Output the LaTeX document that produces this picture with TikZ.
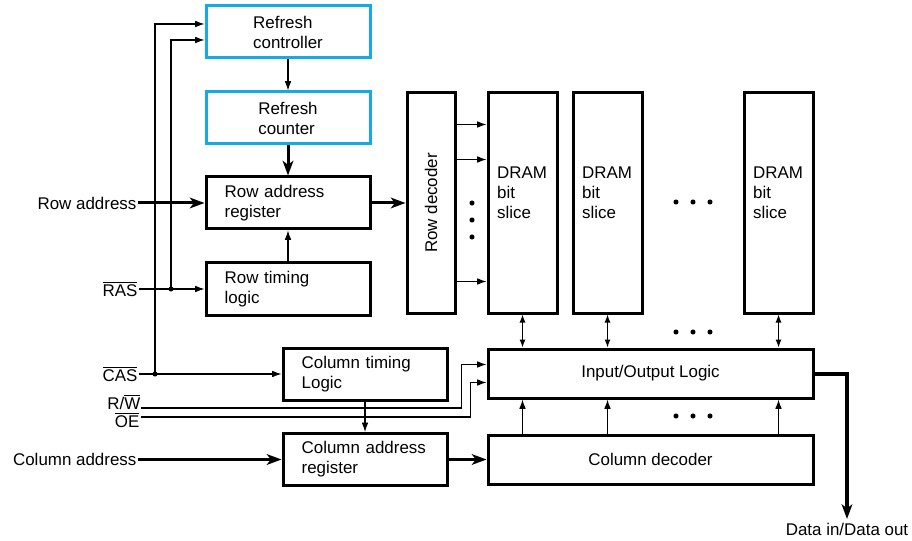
\documentclass[tikz,border=0pt]{standalone}
\usepackage{fontspec}
\setmainfont{Liberation Sans}
\usepackage{xcolor}
\usepackage{tikz}
\usetikzlibrary{positioning,calc,arrows.meta}
\definecolor{refcyan}{RGB}{20,170,228}

\begin{document}
\begin{tikzpicture}[x=.75pt,y=-.75pt,font=\fontsize{12.7}{15}\selectfont,
  blk/.style={draw,line width=2.25pt,minimum width=123pt,minimum height=39pt,align=left},
  rfr/.style={blk,draw=refcyan},
  reg/.style={blk,text width=95pt},
  slc/.style={draw,line width=2.25pt,minimum width=51.75pt,minimum height=165pt},
  stx/.style={align=left,text width=38pt},
  wide/.style={draw,line width=2.25pt,minimum width=243.75pt,minimum height=36.75pt},
  lbl/.style={anchor=east,inner xsep=1pt},
  sig/.style={line width=.8pt,-{Latex[length=7pt,width=5pt]}},
  dbl/.style={line width=.8pt,{Latex[length=6pt,width=4.5pt]}-{Latex[length=6pt,width=4.5pt]}},
  bus/.style={line width=2.25pt,-{Stealth[length=11pt,width=8pt,inset=3pt]}}]
\useasboundingbox (0,0) rectangle (912,541);
\def\vsep{8}
% row side
      \node[rfr] (rc) at (288,32) {Refresh\\controller};
      \node[rfr] (rn) at (288,118) {Refresh\\counter};
      \node[reg] (rar) at (288,203) {Row address\\register};
      \node[reg] (rtl) at (288,289) {Row timing\\logic};
      \node[slc,minimum width=36pt] (rd) at (431,203) {};
      \node[rotate=90] (rdt) at (rd) {Row decoder};
      \node[slc] (s1) at (522.5,203) {};
      \node[slc] (s2) at (607.5,203) {};
      \node[slc] (s3) at (778.5,203) {};
      \node[stx] (t1) at (522.5,193) {DRAM\\bit\\slice};
      \node[stx] (t2) at (607.5,193) {DRAM\\bit\\slice};
      \node[stx] (t3) at (778.5,193) {DRAM\\bit\\slice};
% column side
      \node[wide] (io) at (650.5,373.5) {Input/Output Logic};
      \node[wide] (cd) at (650.5,459.5) {Column decoder};
      \node[reg] (ctl) at (365,374) {Column timing\\Logic};
      \node[reg] (car) at (365,459.5) {Column address\\register};
% inputs
      \node[lbl] (lra) at (138,203) {Row address};
      \node[lbl] (lras) at (139,289) {$\overline{\mbox{RAS}}$};
      \node[lbl] (lcas) at (139,374) {$\overline{\mbox{CAS}}$};
      \node[lbl] (lrw) at (142,402) {R/$\overline{\mbox{W}}$};
      \node[lbl] (loe) at (141,420) {$\overline{\mbox{OE}}$};
      \node[lbl] (lca) at (138,459.5) {Column address};
      \node[anchor=north] (ldo) at (847,519) {Data in/Data out};
      \coordinate (jr) at (171,289);
      \coordinate (jc) at (155,374);
% connections
      \draw[sig] (rc) -- (rn);
      \draw[bus] (rn) -- (rar);
      \draw[sig] (rtl) -- (rar);
      \draw[bus] (lra) -- (rar);
      \draw[bus] (rar) -- (rd);
      \draw[sig] (lras) -- (rtl);
      \draw[sig] (lcas) -- (ctl);
      \draw[sig] (jr) |- ($(rc.west)+(0,\vsep)$);
      \draw[sig] (jc) |- ($(rc.west)+(0,-\vsep)$);
      \fill (jr) circle (1.9pt);
      \fill (jc) circle (1.9pt);
      \draw[sig] (ctl) -- (car);
      \draw[sig] ($(lrw.east)+(-1,6)$) -| ($(io.west)+(-25,-9)$) -- ($(io.west)+(0,-9)$);
      \draw[sig] ($(loe.east)+(0,-3)$) -| ($(io.west)+(-16,9)$) -- ($(io.west)+(0,9)$);
      \draw[bus] (lca) -- (car);
      \draw[bus] (car) -- (cd);
      \draw[sig] ($(rd.north east)+(0,33)$) -- ($(s1.north west)+(0,33)$);
      \draw[sig] ($(rd.north east)+(0,68)$) -- ($(s1.north west)+(0,68)$);
      \draw[sig] ($(rd.south east)+(0,-33)$) -- ($(s1.south west)+(0,-33)$);
      \draw[dbl] (s1) -- (s1 |- io.north);
      \draw[dbl] (s2) -- (s2 |- io.north);
      \draw[dbl] (s3) -- (s3 |- io.north);
      \draw[sig] (s1 |- cd.north) -- (s1 |- io.south);
      \draw[sig] (s2 |- cd.north) -- (s2 |- io.south);
      \draw[sig] (s3 |- cd.north) -- (s3 |- io.south);
      \draw[bus,line width=3pt] (io.east) -| (ldo.north);
% dots
      \fill (472,203) circle (1.9pt) (472,220) circle (1.9pt) (472,237) circle (1.9pt);
      \fill (676,202) circle (1.9pt) (693,202) circle (1.9pt) (710,202) circle (1.9pt);
      \fill (676,332) circle (1.9pt) (693,332) circle (1.9pt) (710,332) circle (1.9pt);
      \fill (676,416) circle (1.9pt) (693,416) circle (1.9pt) (710,416) circle (1.9pt);
\end{tikzpicture}
\end{document}
